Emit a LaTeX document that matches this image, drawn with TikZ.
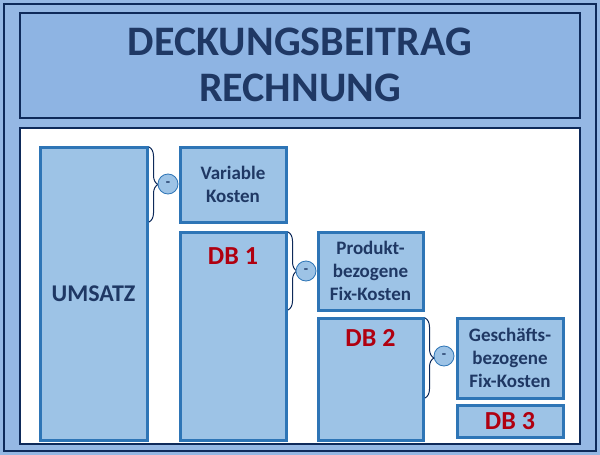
\documentclass[tikz,border=0pt]{standalone}
\usepackage{fontspec}
\setmainfont{Carlito}
\usetikzlibrary{decorations.pathreplacing}
\definecolor{navy}{HTML}{0E2A5A}
\definecolor{bgblue}{HTML}{95B8E4}
\definecolor{titlefill}{HTML}{8EB4E3}
\definecolor{boxfill}{HTML}{9DC3E6}
\definecolor{boxline}{HTML}{2E75B6}
\definecolor{txt}{HTML}{1F3864}
\definecolor{dbred}{HTML}{B00010}
\tikzset{
  blk/.style={draw=boxline, line width=3pt, fill=boxfill, inner sep=0pt, align=center, text=txt, font=\bfseries\fontsize{19}{23}\selectfont},
  dbt/.style={text=dbred, font=\bfseries\fontsize{26}{30}\selectfont},
  br/.style={decorate, decoration={brace, amplitude=9pt}, draw=navy, line width=1pt},
  minus/.style={circle, draw=boxline, fill=boxfill, line width=0.8pt, minimum size=20pt, inner sep=0pt, font=\bfseries\fontsize{14}{16}\selectfont, text=txt}
}
\begin{document}
\begin{tikzpicture}[x=1pt,y=-1pt]
\useasboundingbox (0,0) rectangle (600,455);
\fill[bgblue] (0,0) rectangle (600,455);
\draw[navy, line width=2pt] (4,4) rectangle (596,451);
\node[draw=navy, line width=2pt, fill=titlefill, minimum width=560pt, minimum height=105pt, inner sep=0pt, align=center, text=txt, font=\bfseries\fontsize{42}{46}\selectfont] (title) at (300,65) {DECKUNGSBEITRAG\\RECHNUNG};
\draw[navy, line width=2pt, fill=white] (20,128) rectangle (580,444);
\node[blk, minimum width=107pt, minimum height=293pt] (ums) at (93.5,293.5) {\fontsize{24}{28}\selectfont UMSATZ};
\node[blk, minimum width=106pt, minimum height=75pt] (vk) at (233,184.5) {Variable\\Kosten};
\node[blk, minimum width=106pt, minimum height=208pt] (db1) at (233,336) {};
\node[dbt] at (233,256) {DB 1};
\node[blk, minimum width=105pt, minimum height=78pt] (pk) at (370.5,271) {Produkt-\\bezogene\\Fix-Kosten};
\node[blk, minimum width=105pt, minimum height=122pt] (db2) at (370.5,379) {};
\node[dbt] at (370.5,338) {DB 2};
\node[blk, minimum width=106pt, minimum height=80pt] (gk) at (510,358) {Geschäfts-\\bezogene\\Fix-Kosten};
\node[blk, minimum width=106pt, minimum height=32pt] (db3) at (510,421) {};
\node[dbt] at (db3) {DB 3};
\coordinate (b1a) at (149,147); \coordinate (b1b) at (149,222);
\draw[br] (b1a) -- (b1b);
\node[minus] (m1) at (168,184) {-};
\coordinate (b2a) at (288,232); \coordinate (b2b) at (288,310);
\draw[br] (b2a) -- (b2b);
\node[minus] (m2) at (306,271) {-};
\coordinate (b3a) at (425,318); \coordinate (b3b) at (425,398);
\draw[br] (b3a) -- (b3b);
\node[minus] (m3) at (444,356) {-};
\end{tikzpicture}
\end{document}
